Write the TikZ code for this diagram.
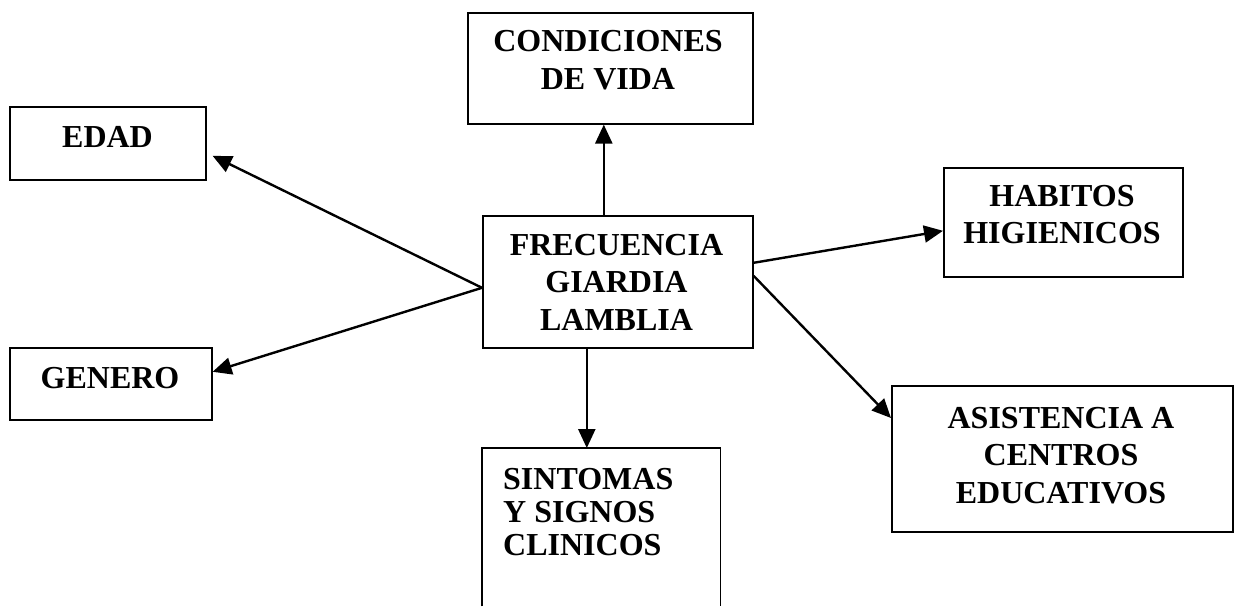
\documentclass[tikz,border=0pt]{standalone}
\usepackage{fontspec}
\setmainfont{Liberation Serif}
\usetikzlibrary{arrows.meta,calc}
\begin{document}
\begin{tikzpicture}[x=1pt,y=-1pt,
  box/.style={draw=black,line width=1.6pt,inner sep=0pt,anchor=north west},
  frame/.style={inner sep=0pt,anchor=north west},
  sides/.style={draw=black,line width=1.6pt},
  txt/.style={inner sep=0pt,anchor=north,align=center,font=\fontsize{32}{37.5}\selectfont\bfseries},
  ltxt/.style={inner sep=0pt,anchor=north west,align=left,font=\fontsize{32}{33}\selectfont\bfseries},
  arr/.style={draw=black,line width=2.4pt,-{Triangle[length=19pt,width=17pt]}}]
\useasboundingbox (0,0) rectangle (1240,606);
% boxes
\node[box,minimum width=285pt,minimum height=111pt] (cond) at (467,12) {};
\node[box,minimum width=196pt,minimum height=73pt] (edad) at (9,106) {};
\node[box,minimum width=270pt,minimum height=132pt] (freq) at (482,215) {};
\node[box,minimum width=239pt,minimum height=109pt] (hab) at (943,167) {};
\node[box,minimum width=202pt,minimum height=72pt] (gen) at (9,347) {};
\node[box,minimum width=341pt,minimum height=146pt] (asis) at (891,385) {};
\node[frame,minimum width=238pt,minimum height=158pt] (sint) at (482,448) {};
\draw[sides] (sint.south west) -- (sint.north west) -- (sint.north east) -- (sint.south east);
% texts
\node[txt] (condT) at (608,30.5) {CONDICIONES\\DE VIDA};
\node[txt] (edadT) at (107.5,126.5) {EDAD};
\node[txt] (freqT) at (616.5,234) {FRECUENCIA\\GIARDIA\\LAMBLIA};
\node[txt] (habT) at (1062,185) {HABITOS\\HIGIENICOS};
\node[txt] (genT) at (110,367) {GENERO};
\node[txt] (asisT) at (1061,407) {ASISTENCIA A\\CENTROS\\EDUCATIVOS};
\node[ltxt] (sintT) at (503,468) {SINTOMAS\\Y SIGNOS\\CLINICOS};
% connectors
\coordinate (fl) at ($(freq.west)+(0,6)$);
\coordinate (ft) at ($(freq.north)+(-14,0)$);
\coordinate (fb) at ($(freq.south)+(-31,0)$);
\draw[arr] (ft) -- (ft |- cond.south);
\draw[arr] (fl) -- ($(edad.east)+(6,12.5)$);
\draw[arr] (fl) -- ($(gen.east)+(0,-12)$);
\draw[arr] ($(freq.east)+(0,-19)$) -- ($(hab.west)+(0,8.5)$);
\draw[arr] ($(freq.east)+(0,-6)$) -- ($(asis.north west)+(0,33)$);
\draw[arr] (fb) -- (fb |- sint.north);
\end{tikzpicture}
\end{document}
